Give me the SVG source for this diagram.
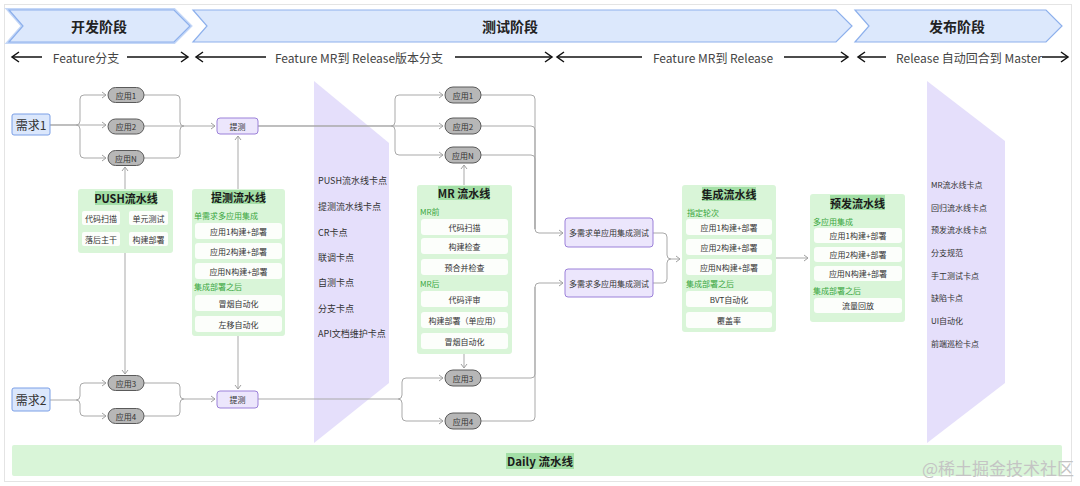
<svg xmlns="http://www.w3.org/2000/svg" width="1080" height="486" viewBox="0 0 1080 486">
<defs>
<style>
text{font-family:"Noto Sans CJK SC","Noto Sans",sans-serif;}
.phase{fill:#dce8fc;stroke:#8db0ec;stroke-width:1.2;}
.ph{font-size:14px;font-weight:bold;fill:#222;text-anchor:middle;dominant-baseline:central;}
.lbl{font-size:12px;fill:#444;text-anchor:middle;dominant-baseline:central;}
.harr{stroke:#111;stroke-width:1.5;fill:none;marker-end:url(#bk);}
.req rect{fill:#dbe7fc;stroke:#7b9fe6;stroke-width:1;}
.req text{font-size:12px;fill:#333;text-anchor:middle;dominant-baseline:central;}
.app rect{fill:#b7b7b7;stroke:#5a5a5a;stroke-width:1;}
.app text{font-size:8px;fill:#333;text-anchor:middle;dominant-baseline:central;}
.pur rect{fill:#ece6fc;stroke:#9b80d9;stroke-width:1;}
.pur text{font-size:8px;fill:#333;text-anchor:middle;dominant-baseline:central;}
.gbox{fill:#d9f5d8;}
.hl{fill:#a3dfa6;}
.title{font-size:11px;font-weight:bold;fill:#1a1a1a;text-anchor:middle;dominant-baseline:central;}
.sub{font-size:8px;fill:#3aa63f;dominant-baseline:central;}
.cell{fill:#fff;fill-opacity:0.9;}
.ct{font-size:8px;fill:#333;text-anchor:middle;dominant-baseline:central;}
.panel{fill:#e5dffb;}
.pt1{font-size:9px;fill:#333;dominant-baseline:central;}
.pt2{font-size:8px;fill:#333;dominant-baseline:central;}
.conn{fill:none;stroke:#a9a9a9;stroke-width:1;}
.ar{marker-end:url(#gr);}
</style>
<marker id="bk" viewBox="0 0 10 12" refX="8" refY="6" markerWidth="10" markerHeight="12" markerUnits="userSpaceOnUse" orient="auto">
<path d="M1,1 L8,6 L1,11" fill="none" stroke="#111" stroke-width="1.5"/>
</marker>
<marker id="gr" viewBox="0 0 6 8" refX="5" refY="4" markerWidth="6" markerHeight="8" markerUnits="userSpaceOnUse" orient="auto">
<path d="M1,1 L5,4 L1,7" fill="none" stroke="#a0a0a0" stroke-width="1"/>
</marker>
</defs>

<rect x="4.5" y="4.5" width="1067" height="477" fill="#fff" stroke="#e4e4e4"/>

<!-- phase header -->
<g id="phase-dev">
<polygon points="9,10 174,10 190,26 174,42 9,42 23,26" fill="none" stroke="#c4d7f7" stroke-width="4"/>
<polygon class="phase" points="9,10 174,10 190,26 174,42 9,42 23,26" stroke-width="1.8"/>
<text class="ph" x="99" y="26">开发阶段</text>
</g>
<g id="phase-test">
<polygon class="phase" points="193,10 836,10 852,26 836,42 193,42 207,26"/>
<text class="ph" x="510" y="26">测试阶段</text>
</g>
<g id="phase-release">
<polygon class="phase" points="855,10 1046,10 1062,26 1046,42 855,42 869,26"/>
<text class="ph" x="957" y="26">发布阶段</text>
</g>

<g id="phase-arrows">
<line class="harr" x1="42" y1="57" x2="12" y2="57"/>
<text class="lbl" x="86" y="57">Feature分支</text>
<line class="harr" x1="127" y1="57" x2="188" y2="57"/>
<line class="harr" x1="266" y1="57" x2="196" y2="57"/>
<text class="lbl" x="359" y="57">Feature MR到 Release版本分支</text>
<line class="harr" x1="455" y1="57" x2="552" y2="57"/>
<line class="harr" x1="642" y1="57" x2="557" y2="57"/>
<text class="lbl" x="713" y="57">Feature MR到 Release</text>
<line class="harr" x1="784" y1="57" x2="848" y2="57"/>
<line class="harr" x1="886" y1="57" x2="858" y2="57"/>
<text class="lbl" x="969" y="57">Release 自动回合到 Master</text>
<line class="harr" x1="1042" y1="57" x2="1068" y2="57"/>
</g>

<!-- checkpoint panels -->
<g id="panel-1">
<polygon class="panel" points="314,81 389,143 389,383 314,443"/>
<text class="pt1" x="318" y="180">PUSH流水线卡点</text>
<text class="pt1" x="318" y="206">提测流水线卡点</text>
<text class="pt1" x="318" y="232">CR卡点</text>
<text class="pt1" x="318" y="257">联调卡点</text>
<text class="pt1" x="318" y="282">自测卡点</text>
<text class="pt1" x="318" y="308">分支卡点</text>
<text class="pt1" x="318" y="333">API文档维护卡点</text>
</g>
<g id="panel-2">
<polygon class="panel" points="927,81 1005,141 1005,383 927,443"/>
<text class="pt2" x="931" y="184">MR流水线卡点</text>
<text class="pt2" x="931" y="207">回归流水线卡点</text>
<text class="pt2" x="931" y="229">预发流水线卡点</text>
<text class="pt2" x="931" y="252">分支规范</text>
<text class="pt2" x="931" y="275">手工测试卡点</text>
<text class="pt2" x="931" y="297">缺陷卡点</text>
<text class="pt2" x="931" y="320">UI自动化</text>
<text class="pt2" x="931" y="343">前端巡检卡点</text>
</g>

<!-- connectors -->
<g id="connectors">
<path class="conn ar" d="M50,125 H106"/>
<path class="conn ar" d="M50,125 H76 Q80,125 80,121 V99 Q80,95 84,95 H106"/>
<path class="conn ar" d="M76,125 Q80,125 80,129 V154 Q80,158 84,158 H106"/>
<path class="conn ar" d="M144,126 H215"/>
<path class="conn" d="M144,95 H176 Q180,95 180,99 V122 Q180,126 184,126"/>
<path class="conn" d="M144,158 H176 Q180,158 180,154 V130 Q180,126 184,126"/>

<path class="conn ar" d="M50,400 H76 Q80,400 80,396 V387 Q80,383 84,383 H106"/>
<path class="conn ar" d="M76,400 Q80,400 80,404 V412 Q80,416 84,416 H106"/>
<path class="conn ar" d="M144,383 H176 Q180,383 180,387 V395 Q180,399 184,399 H215"/>
<path class="conn" d="M144,416 H176 Q180,416 180,412 V403 Q180,399 184,399"/>

<path class="conn ar" d="M125,189 V167"/>
<path class="conn ar" d="M125,253 V374"/>
<path class="conn ar" d="M238,190 V136"/>
<path class="conn ar" d="M238,336 V389"/>

<path class="conn ar" d="M258,126 H443"/>
<path class="conn ar" d="M258,126 H391 Q395,126 395,122 V99 Q395,95 399,95 H443"/>
<path class="conn ar" d="M391,126 Q395,126 395,130 V151 Q395,155 399,155 H443"/>
<path class="conn ar" d="M258,399 H398 Q402,399 402,395 V382 Q402,378 406,378 H443"/>
<path class="conn ar" d="M398,399 Q402,399 402,403 V417 Q402,421 406,421 H443"/>

<path class="conn ar" d="M464,185 V165"/>
<path class="conn ar" d="M464,354 V368"/>

<path class="conn" d="M481,95 H531 Q535,95 535,99 V229 Q535,233 539,233"/>
<path class="conn" d="M481,126 H531 Q535,126 535,130 V229"/>
<path class="conn" d="M481,155 H531 Q535,155 535,159 V229"/>
<path class="conn ar" d="M539,233 H563"/>
<path class="conn" d="M481,378 H531 Q535,378 535,374 V287 Q535,283 539,283"/>
<path class="conn" d="M481,421 H531 Q535,421 535,417 V287"/>
<path class="conn ar" d="M539,283 H563"/>

<path class="conn ar" d="M653,233 H663 Q667,233 667,237 V255 Q667,259 671,259 H680"/>
<path class="conn" d="M653,283 H663 Q667,283 667,279 V263 Q667,259 671,259"/>
<path class="conn ar" d="M776,258 H808"/>
</g>

<!-- requirement nodes -->
<g id="req1" class="req"><rect x="12" y="114" width="38" height="21" rx="2"/><text x="31" y="124.5">需求1</text></g>
<g id="req2" class="req"><rect x="12" y="388" width="38" height="23" rx="2"/><text x="31" y="399.5">需求2</text></g>

<!-- app pills (push side) -->
<g id="app1-a" class="app"><rect x="108" y="87.5" width="36" height="15" rx="7.5"/><text x="126" y="95">应用1</text></g>
<g id="app2-a" class="app"><rect x="108" y="119" width="36" height="15" rx="7.5"/><text x="126" y="126.5">应用2</text></g>
<g id="appN-a" class="app"><rect x="108" y="150.5" width="36" height="15" rx="7.5"/><text x="126" y="158">应用N</text></g>
<g id="app3-a" class="app"><rect x="108" y="375.5" width="36" height="15" rx="7.5"/><text x="126" y="383">应用3</text></g>
<g id="app4-a" class="app"><rect x="108" y="408.5" width="36" height="15" rx="7.5"/><text x="126" y="416">应用4</text></g>

<!-- app pills (MR side) -->
<g id="app1-b" class="app"><rect x="445" y="87" width="36" height="16" rx="8"/><text x="463" y="95">应用1</text></g>
<g id="app2-b" class="app"><rect x="445" y="118" width="36" height="16" rx="8"/><text x="463" y="126">应用2</text></g>
<g id="appN-b" class="app"><rect x="445" y="147" width="36" height="16" rx="8"/><text x="463" y="155">应用N</text></g>
<g id="app3-b" class="app"><rect x="445" y="370" width="36" height="16" rx="8"/><text x="463" y="378">应用3</text></g>
<g id="app4-b" class="app"><rect x="445" y="413" width="36" height="16" rx="8"/><text x="463" y="421">应用4</text></g>

<!-- purple nodes -->
<g id="tice1" class="pur"><rect x="217" y="118" width="41" height="16" rx="3"/><text x="237.5" y="126">提测</text></g>
<g id="tice2" class="pur"><rect x="217" y="391" width="41" height="17" rx="3"/><text x="237.5" y="399.5">提测</text></g>
<g id="multi-single" class="pur"><rect x="565" y="218" width="88" height="29" rx="3"/><text x="609" y="232.5">多需求单应用集成测试</text></g>
<g id="multi-multi" class="pur"><rect x="565" y="269" width="88" height="28" rx="3"/><text x="609" y="283">多需求多应用集成测试</text></g>

<!-- PUSH pipeline -->
<g id="push-pipeline">
<rect class="gbox" x="78" y="189" width="95" height="64" rx="3"/>
<rect class="hl" x="95" y="191" width="62" height="14"/>
<text class="title" x="126" y="198">PUSH流水线</text>
<rect class="cell" x="82" y="211" width="38" height="14" rx="2"/><text class="ct" x="101" y="218">代码扫描</text>
<rect class="cell" x="129" y="211" width="39" height="14" rx="2"/><text class="ct" x="148.5" y="218">单元测试</text>
<rect class="cell" x="82" y="232" width="38" height="14" rx="2"/><text class="ct" x="101" y="239">落后主干</text>
<rect class="cell" x="129" y="232" width="39" height="14" rx="2"/><text class="ct" x="148.5" y="239">构建部署</text>
</g>

<!-- 提测 pipeline -->
<g id="tice-pipeline">
<rect class="gbox" x="192" y="189" width="93" height="147" rx="3"/>
<rect class="hl" x="212" y="190" width="53" height="14"/>
<text class="title" x="238.5" y="197">提测流水线</text>
<text class="sub" x="194" y="215.5">单需求多应用集成</text>
<rect class="cell" x="195" y="223" width="87" height="16" rx="3"/><text class="ct" x="238.5" y="231">应用1构建+部署</text>
<rect class="cell" x="195" y="243" width="87" height="16" rx="3"/><text class="ct" x="238.5" y="251">应用2构建+部署</text>
<rect class="cell" x="195" y="263" width="87" height="16" rx="3"/><text class="ct" x="238.5" y="271">应用N构建+部署</text>
<text class="sub" x="194" y="286.5">集成部署之后</text>
<rect class="cell" x="195" y="295" width="87" height="16" rx="3"/><text class="ct" x="238.5" y="303">冒烟自动化</text>
<rect class="cell" x="195" y="316" width="87" height="16" rx="3"/><text class="ct" x="238.5" y="324">左移自动化</text>
</g>

<!-- MR pipeline -->
<g id="mr-pipeline">
<rect class="gbox" x="417" y="185" width="95" height="169" rx="3"/>
<rect class="hl" x="438" y="186" width="52" height="14"/>
<text class="title" x="464" y="193">MR 流水线</text>
<text class="sub" x="420" y="211.5">MR前</text>
<rect class="cell" x="421" y="219" width="87" height="16" rx="3"/><text class="ct" x="464.5" y="227">代码扫描</text>
<rect class="cell" x="421" y="238" width="87" height="16" rx="3"/><text class="ct" x="464.5" y="246">构建检查</text>
<rect class="cell" x="421" y="259" width="87" height="16" rx="3"/><text class="ct" x="464.5" y="267">预合并检查</text>
<text class="sub" x="420" y="283">MR后</text>
<rect class="cell" x="421" y="291" width="87" height="16" rx="3"/><text class="ct" x="464.5" y="299">代码评审</text>
<rect class="cell" x="421" y="312" width="87" height="16" rx="3"/><text class="ct" x="464.5" y="320">构建部署（单应用）</text>
<rect class="cell" x="421" y="333" width="87" height="16" rx="3"/><text class="ct" x="464.5" y="341">冒烟自动化</text>
</g>

<!-- 集成 pipeline -->
<g id="integration-pipeline">
<rect class="gbox" x="682" y="185" width="94" height="147" rx="3"/>
<rect class="hl" x="702" y="187" width="54" height="14"/>
<text class="title" x="729" y="194">集成流水线</text>
<text class="sub" x="687" y="212.5">指定轮次</text>
<rect class="cell" x="686" y="219" width="86" height="16" rx="3"/><text class="ct" x="729" y="227">应用1构建+部署</text>
<rect class="cell" x="686" y="239" width="86" height="16" rx="3"/><text class="ct" x="729" y="247">应用2构建+部署</text>
<rect class="cell" x="686" y="259" width="86" height="16" rx="3"/><text class="ct" x="729" y="267">应用N构建+部署</text>
<text class="sub" x="686" y="283">集成部署之后</text>
<rect class="cell" x="686" y="291" width="86" height="16" rx="3"/><text class="ct" x="729" y="299">BVT自动化</text>
<rect class="cell" x="686" y="312" width="86" height="16" rx="3"/><text class="ct" x="729" y="320">覆盖率</text>
</g>

<!-- 预发 pipeline -->
<g id="pre-pipeline">
<rect class="gbox" x="810" y="194" width="95" height="128" rx="3"/>
<rect class="hl" x="830" y="195" width="55" height="15"/>
<text class="title" x="857.5" y="202.5">预发流水线</text>
<text class="sub" x="813" y="221.5">多应用集成</text>
<rect class="cell" x="814" y="228" width="88" height="15" rx="3"/><text class="ct" x="858" y="235.5">应用1构建+部署</text>
<rect class="cell" x="814" y="247" width="88" height="15" rx="3"/><text class="ct" x="858" y="254.5">应用2构建+部署</text>
<rect class="cell" x="814" y="266" width="88" height="15" rx="3"/><text class="ct" x="858" y="273.5">应用N构建+部署</text>
<text class="sub" x="813" y="290">集成部署之后</text>
<rect class="cell" x="814" y="298" width="88" height="15" rx="3"/><text class="ct" x="858" y="305.5">流量回放</text>
</g>

<!-- Daily pipeline -->
<g id="daily-pipeline">
<rect class="gbox" x="12" y="445" width="1050" height="31" rx="2"/>
<rect class="hl" x="506" y="453" width="68" height="16"/>
<text class="title" x="540" y="461" style="font-size:11.5px">Daily 流水线</text>
</g>

<text x="1074" y="475" style="font-size:17px;fill:#c4c4c4;text-anchor:end">@稀土掘金技术社区</text>
</svg>
